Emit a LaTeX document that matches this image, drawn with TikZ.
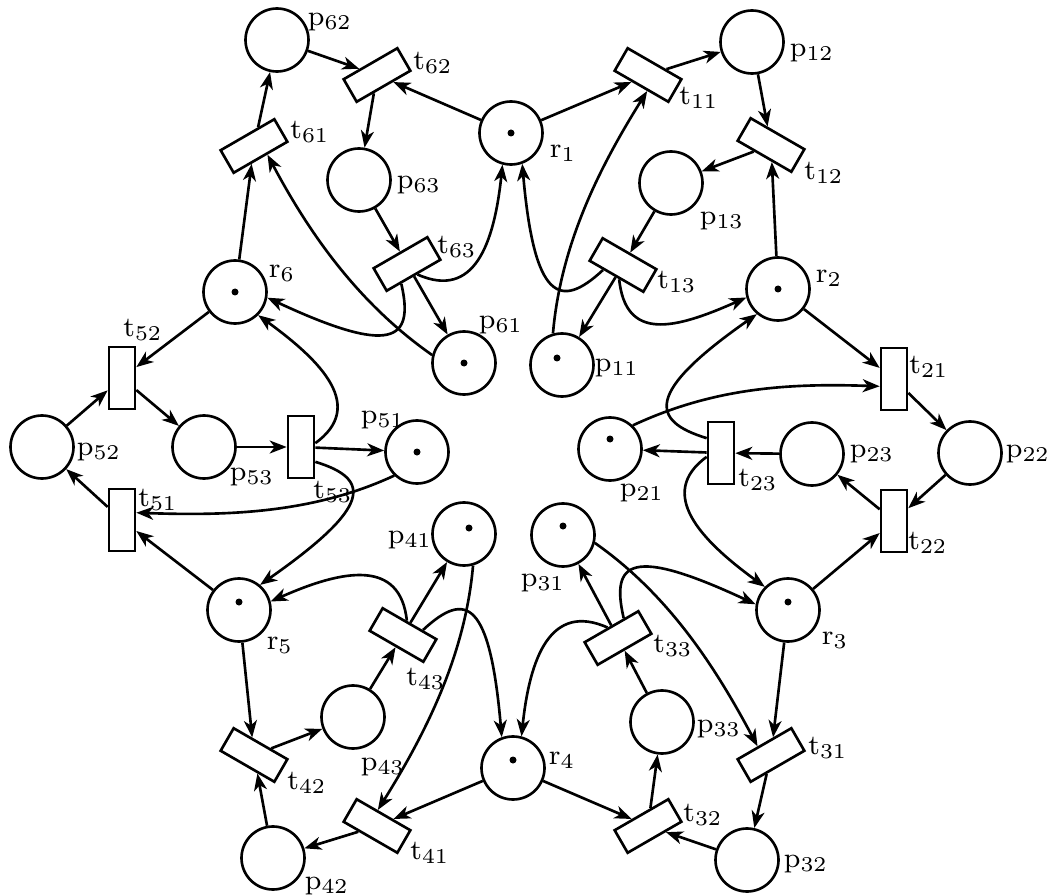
\documentclass[tikz,border=0pt]{standalone}
\usetikzlibrary{arrows.meta}
\tikzset{
  place/.style={
    draw=black,
    circle,
    line width=0.75pt,
    minimum size=6.3mm,
    inner sep=0pt
  },
  trans/.style={
    draw=black,
    rectangle,
    line width=0.75pt,
    minimum width=6.2mm,
    minimum height=2.6mm,
    inner sep=0pt
  },
  flow/.style={-{Stealth[length=1.7mm, width=1.3mm, inset=0.5mm]}, line width=0.75pt},
  lab/.style={inner sep=0pt, font=\fontsize{8}{10}\selectfont},
  token/.style={fill=black}
}
% arcs of one sector: #1 own resource, #2 next resource, #3 turn
\newcommand{\drawsector}[3]{%
  \pgfmathtruncatemacro\angA{-70+#3}%
  \pgfmathtruncatemacro\angB{195+#3}%
  \pgfmathtruncatemacro\angC{106+#3}%
  \draw[flow] (r#1) -- (t#11);
  \draw[flow] (t#11) -- (p#12);
  \draw[flow] (p#12) -- (t#12);
  \draw[flow] (r#2) -- (t#12);
  \draw[flow] (t#12) -- (p#13);
  \draw[flow] (p#13) -- (t#13);
  \draw[flow] (t#13) -- (p#11);
  \draw[flow] (t#13.-136) .. controls +({-137+#3}:0.59) and +({-85+#3}:1.37) .. (r#1.\angA);
  \draw[flow] (t#13.-75) .. controls +({-84+#3}:0.62) and +({-156+#3}:0.80) .. (r#2.\angB);
  \draw[flow] (p#11.\angC) .. controls +({85+#3}:0.9) and +({-122+#3}:0.9) .. (t#11.-63);
}

\begin{document}
\begin{tikzpicture}
  \useasboundingbox (0,0) rectangle (10.62,-8.95);
  % resources
  \node[place] (r1) at (5.11,-1.33) {};
  \node[place] (r2) at (7.78,-2.89) {};
  \node[place] (r3) at (7.88,-6.10) {};
  \node[place] (r4) at (5.13,-7.68) {};
  \node[place] (r5) at (2.39,-6.10) {};
  \node[place] (r6) at (2.35,-2.92) {};
  % places
  \node[place] (p11) at (5.62,-3.65) {};
  \node[place] (p12) at (7.52,-0.42) {};
  \node[place] (p13) at (6.71,-1.83) {};
  \node[place] (p21) at (6.10,-4.49) {};
  \node[place] (p22) at (9.70,-4.53) {};
  \node[place] (p23) at (8.12,-4.54) {};
  \node[place] (p31) at (5.63,-5.35) {};
  \node[place] (p32) at (7.47,-8.60) {};
  \node[place] (p33) at (6.62,-7.22) {};
  \node[place] (p41) at (4.64,-5.34) {};
  \node[place] (p42) at (2.73,-8.58) {};
  \node[place] (p43) at (3.53,-7.17) {};
  \node[place] (p51) at (4.17,-4.52) {};
  \node[place] (p52) at (0.42,-4.47) {};
  \node[place] (p53) at (2.04,-4.47) {};
  \node[place] (p61) at (4.64,-3.63) {};
  \node[place] (p62) at (2.77,-0.40) {};
  \node[place] (p63) at (3.59,-1.80) {};
  % transitions
  \node[trans, rotate=-30]  (t11) at (6.48,-0.75) {};
  \node[trans, rotate=-30]  (t12) at (7.71,-1.45) {};
  \node[trans, rotate=-30]  (t13) at (6.23,-2.65) {};
  \node[trans, rotate=-90]  (t21) at (8.94,-3.79) {};
  \node[trans, rotate=-90]  (t22) at (8.94,-5.21) {};
  \node[trans, rotate=-90]  (t23) at (7.21,-4.53) {};
  \node[trans, rotate=-150] (t31) at (7.71,-7.55) {};
  \node[trans, rotate=-150] (t32) at (6.48,-8.26) {};
  \node[trans, rotate=-150] (t33) at (6.18,-6.38) {};
  \node[trans, rotate=150]  (t41) at (3.77,-8.26) {};
  \node[trans, rotate=150]  (t42) at (2.54,-7.55) {};
  \node[trans, rotate=150]  (t43) at (4.03,-6.35) {};
  \node[trans, rotate=90]   (t51) at (1.22,-5.20) {};
  \node[trans, rotate=90]   (t52) at (1.22,-3.78) {};
  \node[trans, rotate=90]   (t53) at (3.01,-4.47) {};
  \node[trans, rotate=30]   (t61) at (2.54,-1.46) {};
  \node[trans, rotate=30]   (t62) at (3.77,-0.75) {};
  \node[trans, rotate=30]   (t63) at (4.07,-2.64) {};
  % tokens
  \fill[token] (r1.center) circle (0.035);
  \fill[token] (r2.center) circle (0.035);
  \fill[token] ([shift={(0,0.08)}]r3.center) circle (0.035);
  \fill[token] ([shift={(0,0.08)}]r4.center) circle (0.035);
  \fill[token] ([shift={(0,0.08)}]r5.center) circle (0.035);
  \fill[token] (r6.center) circle (0.035);
  \fill[token] ([shift={(-0.05,0.07)}]p11.center) circle (0.035);
  \fill[token] ([shift={(0,0.10)}]p21.center) circle (0.035);
  \fill[token] ([shift={(0,0.09)}]p31.center) circle (0.035);
  \fill[token] ([shift={(0.05,0.06)}]p41.center) circle (0.035);
  \fill[token] (p51.center) circle (0.035);
  \fill[token] (p61.center) circle (0.035);
  % labels
  \node[lab] (r1-l) at (5.63,-1.53) {$\mathrm{r}_{1}$};
  \node[lab] (r2-l) at (8.29,-2.78) {$\mathrm{r}_{2}$};
  \node[lab] (r3-l) at (8.35,-6.40) {$\mathrm{r}_{3}$};
  \node[lab] (r4-l) at (5.62,-7.60) {$\mathrm{r}_{4}$};
  \node[lab] (r5-l) at (2.80,-6.45) {$\mathrm{r}_{5}$};
  \node[lab] (r6-l) at (2.82,-2.73) {$\mathrm{r}_{6}$};
  \node[lab] (p11-l) at (6.17,-3.68) {$\mathrm{p}_{11}$};
  \node[lab] (p12-l) at (8.12,-0.53) {$\mathrm{p}_{12}$};
  \node[lab] (p13-l) at (7.22,-2.21) {$\mathrm{p}_{13}$};
  \node[lab] (t11-l) at (6.99,-0.98) {$\mathrm{t}_{11}$};
  \node[lab] (t12-l) at (8.24,-1.73) {$\mathrm{t}_{12}$};
  \node[lab] (t13-l) at (6.77,-2.82) {$\mathrm{t}_{13}$};
  \node[lab] (p21-l) at (6.42,-4.93) {$\mathrm{p}_{21}$};
  \node[lab] (p22-l) at (10.28,-4.54) {$\mathrm{p}_{22}$};
  \node[lab] (p23-l) at (8.72,-4.54) {$\mathrm{p}_{23}$};
  \node[lab] (t21-l) at (9.29,-3.67) {$\mathrm{t}_{21}$};
  \node[lab] (t22-l) at (9.28,-5.43) {$\mathrm{t}_{22}$};
  \node[lab] (t23-l) at (7.58,-4.80) {$\mathrm{t}_{23}$};
  \node[lab] (p31-l) at (5.43,-5.83) {$\mathrm{p}_{31}$};
  \node[lab] (p32-l) at (8.06,-8.64) {$\mathrm{p}_{32}$};
  \node[lab] (p33-l) at (7.19,-7.29) {$\mathrm{p}_{33}$};
  \node[lab] (t31-l) at (8.28,-7.48) {$\mathrm{t}_{31}$};
  \node[lab] (t32-l) at (7.03,-8.15) {$\mathrm{t}_{32}$};
  \node[lab] (t33-l) at (6.73,-6.46) {$\mathrm{t}_{33}$};
  \node[lab] (p41-l) at (4.10,-5.40) {$\mathrm{p}_{41}$};
  \node[lab] (p42-l) at (3.27,-8.86) {$\mathrm{p}_{42}$};
  \node[lab] (p43-l) at (3.83,-7.67) {$\mathrm{p}_{43}$};
  \node[lab] (t41-l) at (4.30,-8.53) {$\mathrm{t}_{41}$};
  \node[lab] (t42-l) at (3.07,-7.83) {$\mathrm{t}_{42}$};
  \node[lab] (t43-l) at (4.26,-6.79) {$\mathrm{t}_{43}$};
  \node[lab] (p51-l) at (3.83,-4.20) {$\mathrm{p}_{51}$};
  \node[lab] (p52-l) at (0.99,-4.52) {$\mathrm{p}_{52}$};
  \node[lab] (p53-l) at (2.52,-4.77) {$\mathrm{p}_{53}$};
  \node[lab] (t51-l) at (1.58,-5.00) {$\mathrm{t}_{51}$};
  \node[lab] (t52-l) at (1.43,-3.30) {$\mathrm{t}_{52}$};
  \node[lab] (t53-l) at (3.33,-4.92) {$\mathrm{t}_{53}$};
  \node[lab] (p61-l) at (5.01,-3.25) {$\mathrm{p}_{61}$};
  \node[lab] (p62-l) at (3.30,-0.22) {$\mathrm{p}_{62}$};
  \node[lab] (p63-l) at (4.19,-1.85) {$\mathrm{p}_{63}$};
  \node[lab] (t61-l) at (3.10,-1.32) {$\mathrm{t}_{61}$};
  \node[lab] (t62-l) at (4.33,-0.63) {$\mathrm{t}_{62}$};
  \node[lab] (t63-l) at (4.57,-2.47) {$\mathrm{t}_{63}$};
  % arcs, sector by sector
  \drawsector{1}{2}{0}
  \drawsector{2}{3}{-60}
  \drawsector{3}{4}{-120}
  \drawsector{4}{5}{-180}
  \drawsector{5}{6}{-240}
  \drawsector{6}{1}{-300}
\end{tikzpicture}
\end{document}
